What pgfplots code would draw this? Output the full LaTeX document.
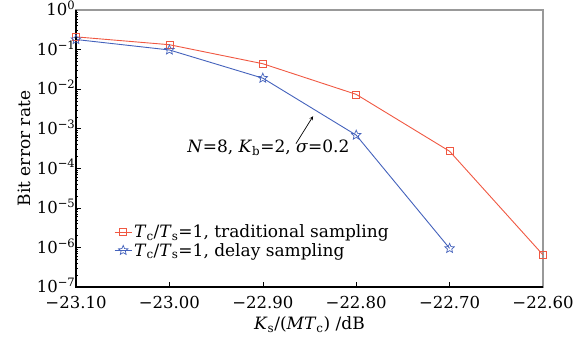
\documentclass[border=0pt]{standalone}
\usepackage{fontspec}
\setmainfont{DejaVu Serif}
\usepackage{pgfplots}
\pgfplotsset{compat=1.18}
\definecolor{cred}{RGB}{240,88,66}
\definecolor{cblue}{RGB}{68,98,188}
\pgfdeclareplotmark{ostar}{%
  \pgfpathmoveto{\pgfpointpolar{90}{\pgfplotmarksize}}%
  \pgfpathlineto{\pgfpointpolar{126}{0.45\pgfplotmarksize}}%
  \pgfpathlineto{\pgfpointpolar{162}{\pgfplotmarksize}}%
  \pgfpathlineto{\pgfpointpolar{198}{0.45\pgfplotmarksize}}%
  \pgfpathlineto{\pgfpointpolar{234}{\pgfplotmarksize}}%
  \pgfpathlineto{\pgfpointpolar{270}{0.45\pgfplotmarksize}}%
  \pgfpathlineto{\pgfpointpolar{306}{\pgfplotmarksize}}%
  \pgfpathlineto{\pgfpointpolar{342}{0.45\pgfplotmarksize}}%
  \pgfpathlineto{\pgfpointpolar{18}{\pgfplotmarksize}}%
  \pgfpathlineto{\pgfpointpolar{54}{0.45\pgfplotmarksize}}%
  \pgfpathclose\pgfusepathqstroke}
\newcommand{\sub}[1]{\textsubscript{#1}}
\begin{document}
\begin{tikzpicture}
\begin{axis}[
  name=ax,
  width=467pt, height=277pt, scale only axis,
  ymode=log, xmin=-23.10, xmax=-22.60, ymin=1e-7, ymax=1,
  xtick={-23.10,-23.00,-22.90,-22.80,-22.70,-22.60},
  xticklabels={−23.10,−23.00,−22.90,−22.80,−22.70,−22.60},
  ytick={1e-7,1e-6,1e-5,1e-4,1e-3,1e-2,1e-1,1},
  yticklabels={10\textsuperscript{−7},10\textsuperscript{−6},10\textsuperscript{−5},10\textsuperscript{−4},10\textsuperscript{−3},10\textsuperscript{−2},10\textsuperscript{−1},10\textsuperscript{0}},
  tick align=inside, xtick pos=bottom, ytick pos=left,
  major tick length=5pt, minor tick length=2.5pt,
  tick style={black, line width=0.6pt},
  axis line style={gray!80, line width=1.2pt},
  font=\fontsize{17}{19}\selectfont,
  ticklabel style={font=\fontsize{16.5}{18}\selectfont, inner sep=1pt},
  yticklabel style={xshift=0.5pt, yshift=1.5pt},
  xticklabel style={yshift=-8.5pt},
  xlabel={\textit{K}\sub{s}/(\textit{MT}\sub{c}) /dB},
  ylabel={Bit error rate},
  xlabel style={yshift=-3pt},
  ylabel style={yshift=2pt},
  legend style={draw=none, fill=none, at={(rel axis cs:0.075,0.24)}, anchor=north west,
    font=\fontsize{17}{19}\selectfont, row sep=0pt},
  legend cell align=left,
  clip=false,
]
\addplot[cred, line width=0.9pt, mark=square, mark size=3.5pt, mark options={solid, line width=0.7pt}]
  coordinates {(-23.10,0.21) (-23.00,0.133) (-22.90,0.044) (-22.80,0.0074) (-22.70,2.7e-4) (-22.60,6.5e-7)};
\addlegendentry{\textit{T}\sub{c}/\textit{T}\sub{s}=1, traditional sampling}
\addplot[cblue, line width=0.9pt, mark=ostar, mark size=5pt, mark options={solid, line width=0.7pt}]
  coordinates {(-23.10,0.18) (-23.00,0.098) (-22.90,0.019) (-22.80,6.9e-4) (-22.70,9.5e-7)};
\addlegendentry{\textit{T}\sub{c}/\textit{T}\sub{s}=1, delay sampling}
\draw[black, line width=1.2pt] (rel axis cs:0,1) -- (rel axis cs:0,0) -- (rel axis cs:1,0);
\node at (axis cs:-22.894,3.3e-4) {\textit{N}=8, \textit{K}\sub{b}=2, \textit{σ}=0.2};
\draw[-stealth, black, line width=0.7pt] (axis cs:-22.8645,4.2e-4) -- (axis cs:-22.8462,2.07e-3);
\end{axis}
\path (ax.south west) ++(-76pt,-53pt);
\path (ax.north east) ++(39pt,9pt);
\end{tikzpicture}
\end{document}
